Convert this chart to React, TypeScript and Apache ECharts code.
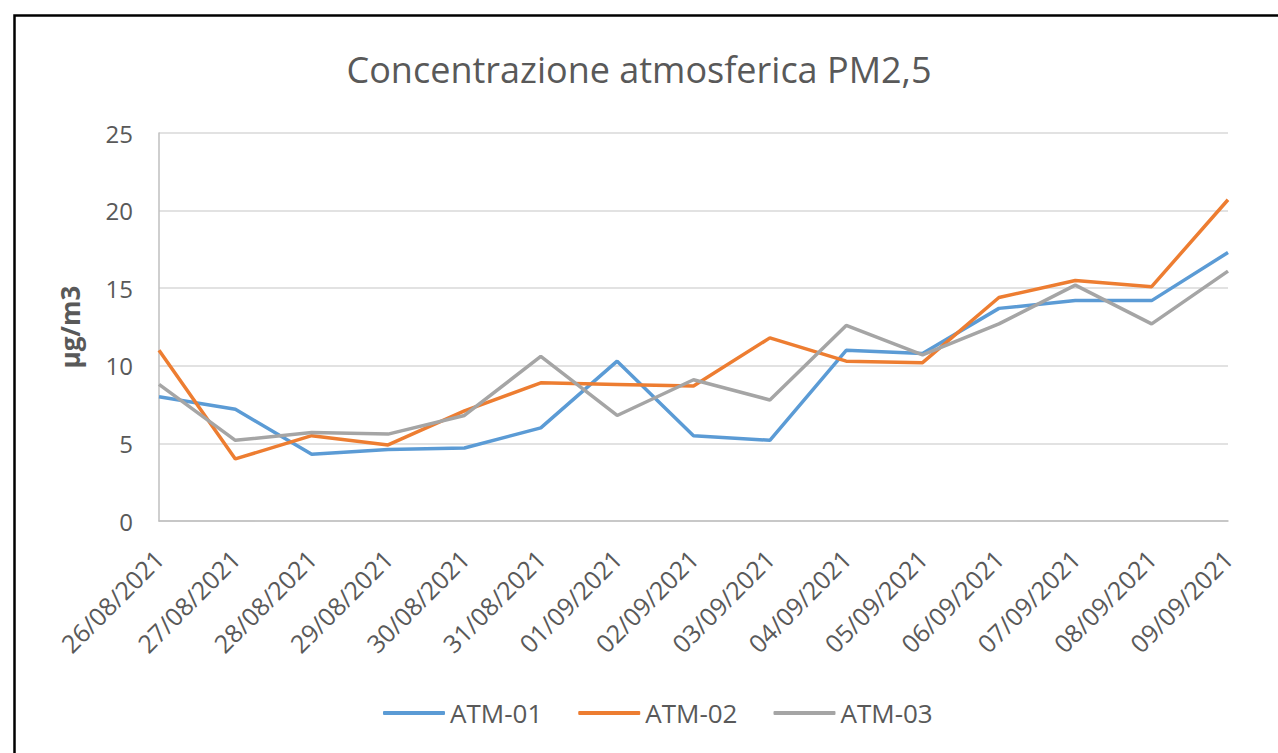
import React, { useEffect, useRef } from "react";
import * as echarts from "echarts";

const categories = [
  "26/08/2021", "27/08/2021", "28/08/2021", "29/08/2021", "30/08/2021",
  "31/08/2021", "01/09/2021", "02/09/2021", "03/09/2021", "04/09/2021",
  "05/09/2021", "06/09/2021", "07/09/2021", "08/09/2021", "09/09/2021",
];
const atm01 = [8.0, 7.2, 4.3, 4.6, 4.7, 6.0, 10.3, 5.5, 5.2, 11.0, 10.8, 13.7, 14.2, 14.2, 17.3];
const atm02 = [11.0, 4.0, 5.5, 4.9, 7.1, 8.9, 8.8, 8.7, 11.8, 10.3, 10.2, 14.4, 15.5, 15.1, 20.7];
const atm03 = [8.8, 5.2, 5.7, 5.6, 6.8, 10.6, 6.8, 9.1, 7.8, 12.6, 10.7, 12.7, 15.2, 12.7, 16.1];
const seriesNames = ["ATM-01", "ATM-02", "ATM-03"];
const seriesColors = ["#5B9BD5", "#ED7D31", "#A5A5A5"];
const titleText = "Concentrazione atmosferica PM2,5";
const yAxisName = "µg/m3";

export default function App() {
  const ref = useRef<HTMLDivElement>(null);
  useEffect(() => {
    if (!ref.current) return;
    const chart = echarts.init(ref.current, null, { renderer: "svg" });
    const font = "'Open Sans', sans-serif";
    const dataSets = [atm01, atm02, atm03];
    chart.setOption({
      animation: false,
      backgroundColor: "#ffffff",
      textStyle: { fontFamily: font },
      title: {
        text: titleText,
        left: "center",
        top: 46,
        textStyle: { fontFamily: font, fontSize: 36, fontWeight: "normal", color: "#595959" },
      },
      grid: { left: 159, right: 50, top: 133, bottom: 232, containLabel: false },
      legend: {
        bottom: 22,
        left: 378,
        itemWidth: 62,
        itemHeight: 4,
        itemGap: 36,
        icon: "roundRect",
        textStyle: { fontFamily: font, fontSize: 26, color: "#595959" },
        data: seriesNames,
      },
      xAxis: {
        type: "category",
        data: categories,
        boundaryGap: false,
        axisLine: { show: true, lineStyle: { color: "#BFBFBF", width: 1.5 } },
        axisTick: { show: false },
        axisLabel: {
          rotate: 45,
          interval: 0,
          margin: 33,
          fontFamily: font,
          fontSize: 25,
          color: "#595959",
        },
        splitLine: { show: false },
      },
      yAxis: {
        type: "value",
        min: 0,
        max: 25,
        interval: 5,
        name: yAxisName,
        nameLocation: "middle",
        nameGap: 76,
        nameTextStyle: { fontFamily: font, fontSize: 26, fontWeight: "bold", color: "#595959" },
        axisLine: { show: true, lineStyle: { color: "#BFBFBF", width: 1.5 } },
        axisTick: { show: false },
        axisLabel: { margin: 26, fontFamily: font, fontSize: 24, color: "#595959" },
        splitLine: { show: true, lineStyle: { color: "#D9D9D9", width: 1.5 } },
      },
      series: seriesNames.map((name, i) => ({
        name,
        type: "line",
        data: dataSets[i],
        showSymbol: false,
        symbol: "none",
        lineStyle: { color: seriesColors[i], width: 3.5 },
        itemStyle: { color: seriesColors[i] },
      })),
      graphic: [
        {
          type: "rect",
          left: 12,
          top: 13,
          shape: { x: 0, y: 0, width: 1290, height: 800 },
          style: { fill: "none", stroke: "#000000", lineWidth: 2.5 },
          silent: true,
        },
      ],
    });
    return () => chart.dispose();
  }, []);
  return (
    <div
      ref={ref}
      style={{ position: "fixed", left: 0, top: 0, width: 1278, height: 753 }}
    />
  );
}
